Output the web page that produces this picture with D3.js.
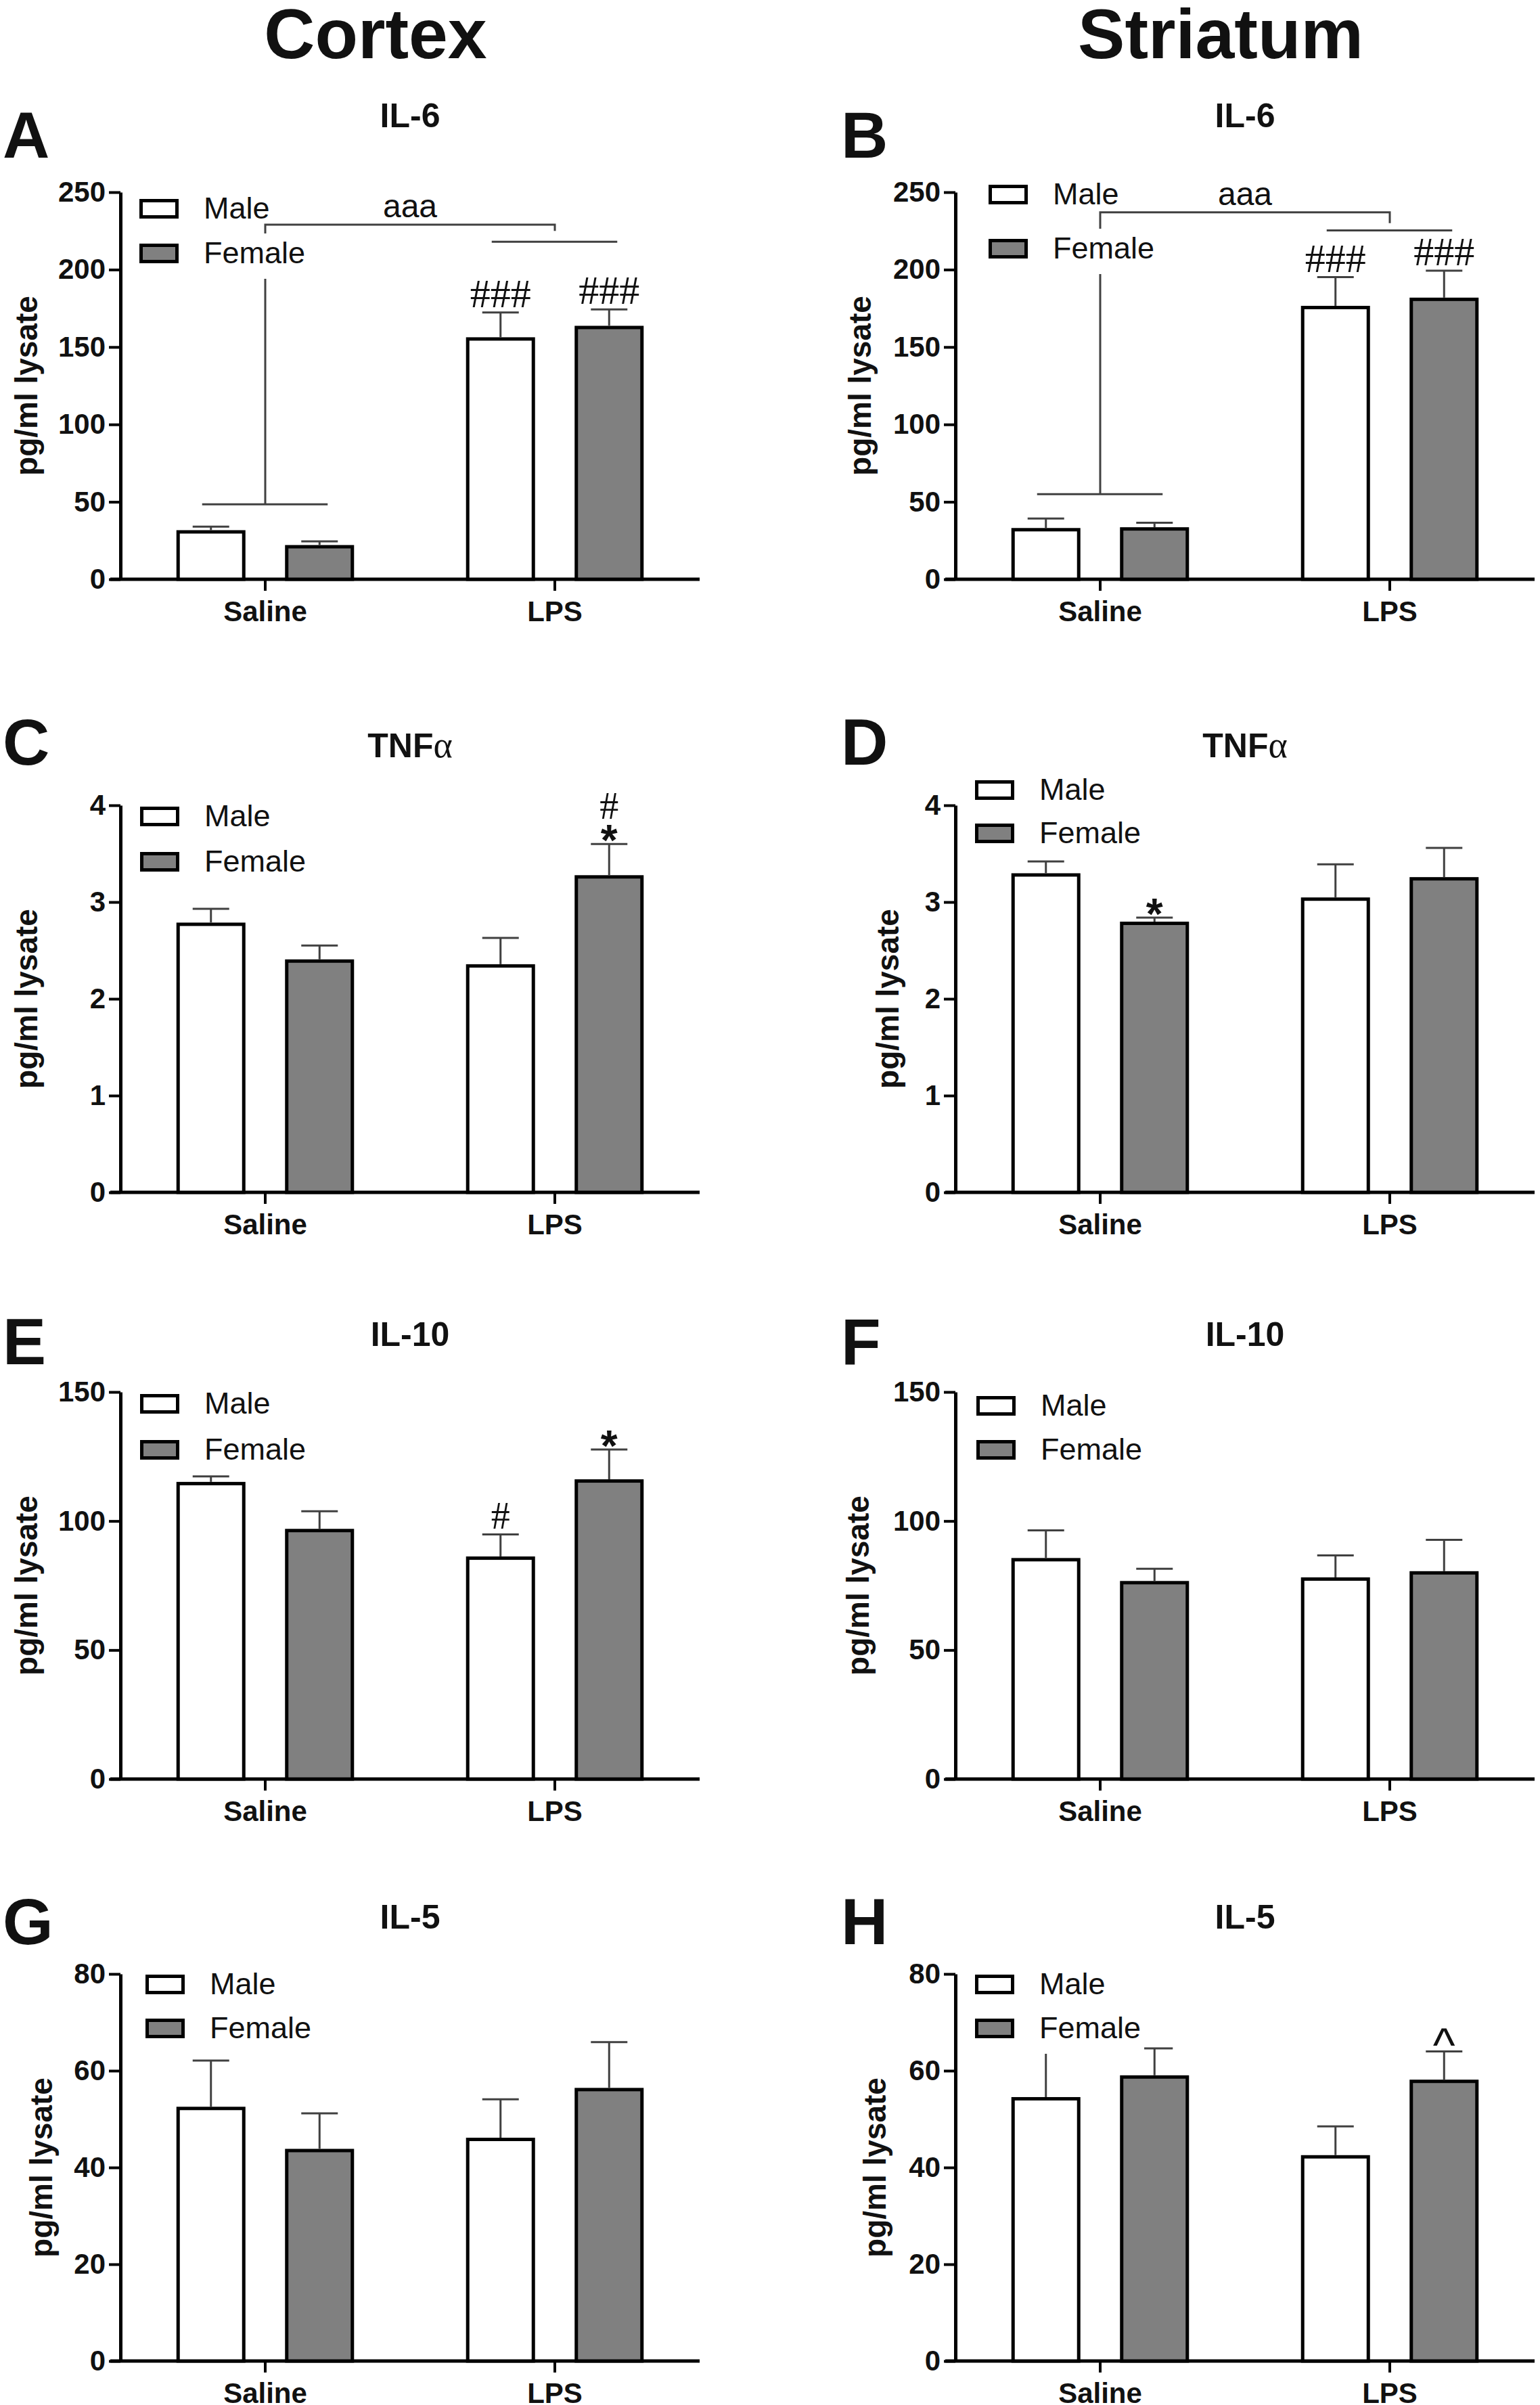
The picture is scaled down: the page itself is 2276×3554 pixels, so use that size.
<!DOCTYPE html>
<html>
<head>
<meta charset="utf-8">
<script src="https://cdnjs.cloudflare.com/ajax/libs/d3/7.8.5/d3.min.js"></script>
<style>
  body { margin: 0; background: #fff; }
  svg { display: block; }
  text { font-family: "Liberation Sans", Arial, sans-serif; fill: #111; }
</style>
</head>
<body>
<svg id="chart"></svg>
<script>
// categories
var groups = ["Saline", "LPS"];
var sexes = ["Male", "Female"];

// means and SEM, [Saline, LPS]
var cortexIL6Male = [30.6, 155.2], cortexIL6MaleSem = [3.4, 17.1];
var cortexIL6Female = [21.0, 162.6], cortexIL6FemaleSem = [3.5, 11.7];
var striatumIL6Male = [32.0, 175.5], striatumIL6MaleSem = [7.2, 19.6];
var striatumIL6Female = [32.5, 180.8], striatumIL6FemaleSem = [4.0, 18.5];

var cortexTNFMale = [2.77, 2.34], cortexTNFMaleSem = [0.16, 0.29];
var cortexTNFFemale = [2.39, 3.26], cortexTNFFemaleSem = [0.16, 0.34];
var striatumTNFMale = [3.28, 3.03], striatumTNFMaleSem = [0.14, 0.36];
var striatumTNFFemale = [2.78, 3.24], striatumTNFFemaleSem = [0.06, 0.32];

var cortexIL10Male = [114.5, 85.6], cortexIL10MaleSem = [2.8, 9.2];
var cortexIL10Female = [96.3, 115.5], cortexIL10FemaleSem = [7.5, 12.2];
var striatumIL10Male = [85.0, 77.5], striatumIL10MaleSem = [11.4, 9.2];
var striatumIL10Female = [76.1, 79.9], striatumIL10FemaleSem = [5.4, 12.8];

var cortexIL5Male = [52.2, 45.8], cortexIL5MaleSem = [9.9, 8.3];
var cortexIL5Female = [43.5, 56.1], cortexIL5FemaleSem = [7.7, 9.8];
var striatumIL5Male = [54.2, 42.2], striatumIL5MaleSem = [9.8, 6.3];
var striatumIL5Female = [58.7, 57.8], striatumIL5FemaleSem = [5.9, 6.2];

// y tick labels
var il6Ticks = [0, 50, 100, 150, 200, 250];
var tnfTicks = [0, 1, 2, 3, 4];
var il10Ticks = [0, 50, 100, 150];
var il5Ticks = [0, 20, 40, 60, 80];

// significance marks: [group, sex, symbols stacked from the bar upwards]
var cortexIL6Marks = [["LPS", "Male", "###"], ["LPS", "Female", "###"]];
var striatumIL6Marks = [["LPS", "Male", "###"], ["LPS", "Female", "###"]];
var cortexTNFMarks = [["LPS", "Female", "*", "#"]];
var striatumTNFMarks = [["Saline", "Female", "*"]];
var cortexIL10Marks = [["LPS", "Male", "#"], ["LPS", "Female", "*"]];
var striatumIL10Marks = [];
var cortexIL5Marks = [];
var striatumIL5Marks = [["LPS", "Female", "^"]];

// "aaa" bracket levels: [top, right leg end, Saline line, LPS line]
var cortexIL6Bracket = [229, 225, 48.4, 218];
var striatumIL6Bracket = [237, 230, 55, 225.3];

var columnTitles = ["Cortex", "Striatum"];

var panels = [
  { id: "A", title: "IL-6", ticks: il6Ticks, male: cortexIL6Male, maleSem: cortexIL6MaleSem, female: cortexIL6Female, femaleSem: cortexIL6FemaleSem, marks: cortexIL6Marks, bracket: cortexIL6Bracket },
  { id: "B", title: "IL-6", ticks: il6Ticks, male: striatumIL6Male, maleSem: striatumIL6MaleSem, female: striatumIL6Female, femaleSem: striatumIL6FemaleSem, marks: striatumIL6Marks, bracket: striatumIL6Bracket },
  { id: "C", title: "TNF", ticks: tnfTicks, male: cortexTNFMale, maleSem: cortexTNFMaleSem, female: cortexTNFFemale, femaleSem: cortexTNFFemaleSem, marks: cortexTNFMarks },
  { id: "D", title: "TNF", ticks: tnfTicks, male: striatumTNFMale, maleSem: striatumTNFMaleSem, female: striatumTNFFemale, femaleSem: striatumTNFFemaleSem, marks: striatumTNFMarks },
  { id: "E", title: "IL-10", ticks: il10Ticks, male: cortexIL10Male, maleSem: cortexIL10MaleSem, female: cortexIL10Female, femaleSem: cortexIL10FemaleSem, marks: cortexIL10Marks },
  { id: "F", title: "IL-10", ticks: il10Ticks, male: striatumIL10Male, maleSem: striatumIL10MaleSem, female: striatumIL10Female, femaleSem: striatumIL10FemaleSem, marks: striatumIL10Marks },
  { id: "G", title: "IL-5", ticks: il5Ticks, male: cortexIL5Male, maleSem: cortexIL5MaleSem, female: cortexIL5Female, femaleSem: cortexIL5FemaleSem, marks: cortexIL5Marks },
  { id: "H", title: "IL-5", ticks: il5Ticks, male: striatumIL5Male, maleSem: striatumIL5MaleSem, female: striatumIL5Female, femaleSem: striatumIL5FemaleSem, marks: striatumIL5Marks }
];

// page layout
var W = 2276, H = 3554;
var colX = [178, 1412], letterX = [4, 1243];
var plotW = 856, plotH = 572;
var rowZero = [856, 1762, 2629, 3489];
var titleOff = [96, 71, 68, 67], letterOff = [51, 60, 41, 44];

// legend box x offset from the axis, legend top, row gap, y label offset
var layout = {
  A: { legX: 28, legY: 294, legGap: 66, labOff: 123 },
  B: { legX: 49, legY: 273, legGap: 80, labOff: 125 },
  C: { legX: 29, legY: 1192, legGap: 67, labOff: 123 },
  D: { legX: 29, legY: 1153, legGap: 64, labOff: 84 },
  E: { legX: 29, legY: 2060, legGap: 68, labOff: 123 },
  F: { legX: 31, legY: 2063, legGap: 65, labOff: 128 },
  G: { legX: 37, legY: 2918, legGap: 65, labOff: 101 },
  H: { legX: 29, legY: 2918, legGap: 65, labOff: 103 }
};

var markStyle = {
  "#":   { family: "'Liberation Serif', 'Times New Roman', serif", weight: "normal", size: 56, bottom: 0, top: 38 },
  "###": { family: "'Liberation Serif', 'Times New Roman', serif", weight: "normal", size: 60, bottom: 0, top: 41 },
  "*":   { family: "'Liberation Sans', Arial, sans-serif", weight: "bold", size: 64, bottom: 25, top: 46 },
  "^":   { family: "'Liberation Sans', Arial, sans-serif", weight: "normal", size: 70, bottom: 23, top: 50 }
};

var fillOf = { Male: "#fff", Female: "#808080" };
var lineGrey = "#404040";

var svg = d3.select("#chart")
  .attr("width", W)
  .attr("height", H);

svg.append("rect").attr("width", W).attr("height", H).attr("fill", "#fff");

// column headings
svg.selectAll(".coltitle")
  .data(columnTitles)
  .enter().append("text")
  .attr("class", "coltitle")
  .attr("x", function(d, i) { return i === 0 ? 555 : 1804; })
  .attr("y", 86)
  .attr("text-anchor", "middle")
  .style("font-size", "104px")
  .style("font-weight", "bold")
  .text(function(d) { return d; });

panels.forEach(function(p, pi) {
  var col = pi % 2, row = Math.floor(pi / 2);
  var L = layout[p.id];
  var x0 = colX[col], y0 = rowZero[row];
  var g = svg.append("g");

  var x = d3.scaleBand().domain(groups).range([x0, x0 + plotW]);
  var xs = d3.scaleBand().domain(sexes).range([0, x.bandwidth()])
    .paddingInner(0.3956).paddingOuter(0.531);
  var y = d3.scaleLinear().domain([0, d3.max(p.ticks)]).range([y0, y0 - plotH]);

  var bars = [];
  groups.forEach(function(grp, i) {
    bars.push({ group: grp, sex: "Male", value: p.male[i], sem: p.maleSem[i] });
    bars.push({ group: grp, sex: "Female", value: p.female[i], sem: p.femaleSem[i] });
  });
  function cx(grp, sex) { return x(grp) + xs(sex) + xs.bandwidth() / 2; }
  function find(grp, sex) { return bars.filter(function(b) { return b.group === grp && b.sex === sex; })[0]; }

  // panel letter and title
  g.append("text")
    .attr("x", letterX[col])
    .attr("y", y0 - plotH - letterOff[row])
    .style("font-size", "96px")
    .style("font-weight", "bold")
    .text(p.id);

  var t = g.append("text")
    .attr("x", x0 + plotW / 2)
    .attr("y", y0 - plotH - titleOff[row])
    .attr("text-anchor", "middle")
    .style("font-size", "50px")
    .style("font-weight", "bold")
    .text(p.title);
  if (p.title === "TNF") {
    t.append("tspan")
      .style("font-family", "'Liberation Serif', 'Times New Roman', serif")
      .style("font-weight", "normal")
      .style("font-size", "54px")
      .text("\u03b1");
  }

  // y axis
  var yAxis = g.append("g")
    .attr("transform", "translate(" + x0 + ",0)")
    .call(d3.axisLeft(y).tickValues(p.ticks).tickFormat(d3.format("d"))
      .tickSize(17).tickSizeOuter(0).tickPadding(5));
  yAxis.select(".domain").attr("stroke", "#000").attr("stroke-width", 5);
  yAxis.selectAll(".tick line").attr("stroke", "#000").attr("stroke-width", 4);
  yAxis.selectAll(".tick text")
    .attr("fill", "#111")
    .style("font-size", "42px")
    .style("font-weight", "bold")
    .style("font-family", "'Liberation Sans', Arial, sans-serif");

  g.append("text")
    .attr("transform", "translate(" + (x0 - L.labOff) + "," + (y0 - plotH / 2) + ") rotate(-90)")
    .attr("text-anchor", "middle")
    .style("font-size", "46px")
    .style("font-weight", "bold")
    .text("pg/ml lysate");

  // x axis
  g.append("line")
    .attr("x1", x0 - 15).attr("x2", x0 + plotW)
    .attr("y1", y0).attr("y2", y0)
    .attr("stroke", "#000").attr("stroke-width", 5);
  var xAxis = g.append("g")
    .attr("transform", "translate(0," + y0 + ")")
    .call(d3.axisBottom(x).tickSize(17).tickSizeOuter(0).tickPadding(15));
  xAxis.select(".domain").remove();
  xAxis.selectAll(".tick line").attr("stroke", "#000").attr("stroke-width", 4);
  xAxis.selectAll(".tick text")
    .attr("fill", "#111")
    .style("font-size", "42px")
    .style("font-weight", "bold")
    .style("font-family", "'Liberation Sans', Arial, sans-serif");

  // "aaa" bracket (IL-6)
  if (p.bracket) {
    var b = p.bracket;
    var xl = x("Saline") + x.bandwidth() / 2, xr = x("LPS") + x.bandwidth() / 2;
    g.append("path")
      .attr("d", "M" + xl + "," + y(b[2]) + "V" + y(b[0]) + "H" + xr + "V" + y(b[1]))
      .attr("fill", "none").attr("stroke", lineGrey).attr("stroke-width", 3);
    groups.forEach(function(grp, i) {
      g.append("line")
        .attr("x1", cx(grp, "Male") - 13).attr("x2", cx(grp, "Female") + 12)
        .attr("y1", y(b[i === 0 ? 2 : 3])).attr("y2", y(b[i === 0 ? 2 : 3]))
        .attr("stroke", lineGrey).attr("stroke-width", 3);
    });
    g.append("text")
      .attr("x", (xl + xr) / 2)
      .attr("y", y(b[0]) - 11)
      .attr("text-anchor", "middle")
      .style("font-size", "48px")
      .text("aaa");
  }

  // bars
  g.selectAll(".bar")
    .data(bars)
    .enter().append("rect")
    .attr("class", "bar")
    .attr("x", function(d) { return x(d.group) + xs(d.sex); })
    .attr("width", xs.bandwidth())
    .attr("y", function(d) { return y(d.value); })
    .attr("height", function(d) { return y(0) - y(d.value); })
    .attr("fill", function(d) { return fillOf[d.sex]; })
    .attr("stroke", "#000")
    .attr("stroke-width", 5);

  // error bars (upper SEM)
  var eb = g.selectAll(".err").data(bars).enter().append("g").attr("class", "err");
  eb.append("line")
    .attr("x1", function(d) { return cx(d.group, d.sex); })
    .attr("x2", function(d) { return cx(d.group, d.sex); })
    .attr("y1", function(d) { return y(d.value) - 2.5; })
    .attr("y2", function(d) { return y(d.value + d.sem); })
    .attr("stroke", lineGrey).attr("stroke-width", 3);
  eb.append("line")
    .attr("x1", function(d) { return cx(d.group, d.sex) - 27; })
    .attr("x2", function(d) { return cx(d.group, d.sex) + 27; })
    .attr("y1", function(d) { return y(d.value + d.sem); })
    .attr("y2", function(d) { return y(d.value + d.sem); })
    .attr("stroke", lineGrey).attr("stroke-width", 3);

  // significance symbols, glyph bottoms 8px above the cap / previous glyph
  p.marks.forEach(function(m) {
    var d = find(m[0], m[1]);
    var cur = y(d.value + d.sem) - 8;
    m.slice(2).forEach(function(sym) {
      var st = markStyle[sym];
      var base = cur + st.bottom;
      g.append("text")
        .attr("x", cx(m[0], m[1]))
        .attr("y", base)
        .attr("text-anchor", "middle")
        .style("font-family", st.family)
        .style("font-weight", st.weight)
        .style("font-size", st.size + "px")
        .style("fill", "#111")
        .text(sym);
      cur = base - st.top - 8;
    });
  });

  // legend
  var lx = x0 + L.legX;
  sexes.forEach(function(s, i) {
    var top = L.legY + i * L.legGap;
    var lg = g.append("g");
    var bg = lg.append("rect").attr("fill", "#fff");
    lg.append("rect")
      .attr("x", lx + 2.5).attr("y", top + 2.5)
      .attr("width", 53).attr("height", 24)
      .attr("fill", fillOf[s]).attr("stroke", "#000").attr("stroke-width", 5);
    var txt = lg.append("text")
      .attr("x", lx + 95).attr("y", top + 29)
      .style("font-size", "45px")
      .text(s);
    if (i === 1) {
      var w = txt.node().getComputedTextLength();
      bg.attr("x", lx - 5).attr("y", top - 15)
        .attr("width", 95 + w + 10).attr("height", 29 + 38);
    }
  });
});
</script>
</body>
</html>
